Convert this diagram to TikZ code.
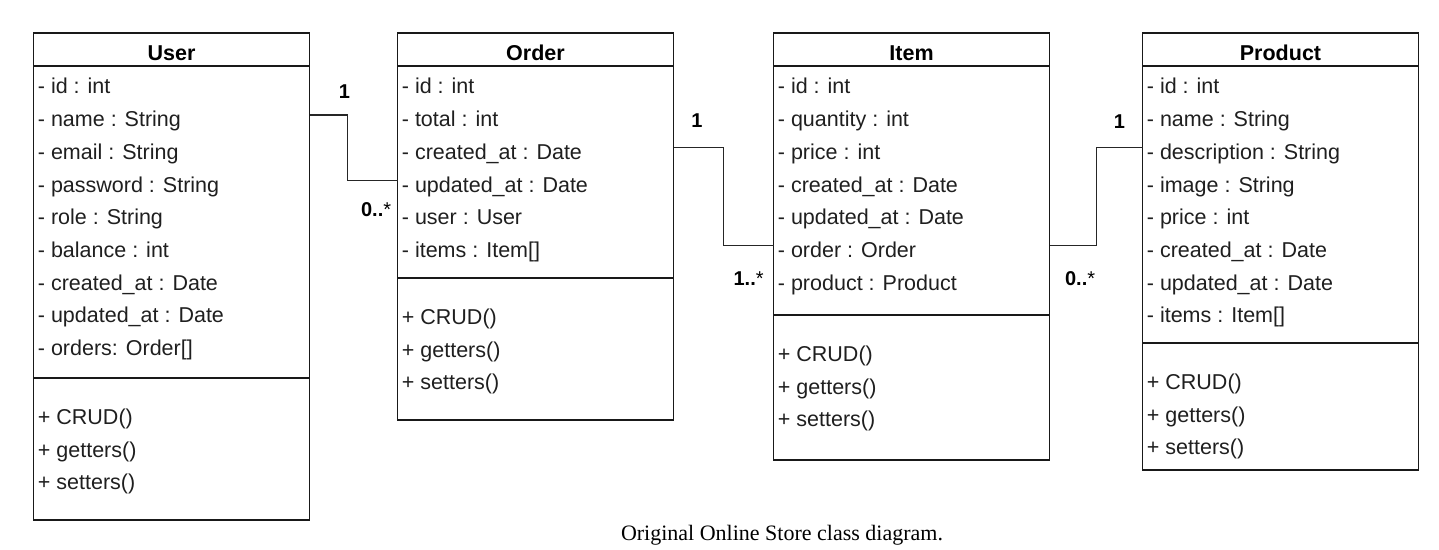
\documentclass[tikz,border=0pt]{standalone}
\usepackage{fontspec}
\setsansfont{Liberation Sans}
\newfontfamily\captionfont{Liberation Serif}
\usetikzlibrary{positioning,calc}

\begin{document}
\begin{tikzpicture}[
	x=0.5pt, y=-0.5pt,
	font=\fontsize{10.75}{13}\selectfont\sffamily,
	comp/.style={
		draw=black!90,
		line width=0.75pt,
		minimum width=138pt,
		inner sep=0pt,
		outer sep=0pt,
	},
	head/.style={
		comp,
		minimum height=16.5pt,
		text height=11.2pt,
		text depth=0pt,
		font=\fontsize{10.75}{13}\selectfont\sffamily\bfseries,
	},
	row/.style={anchor=base west, inner sep=0pt, text=black!88},
	link/.style={draw=black!85, line width=0.6pt},
	mult/.style={anchor=base, inner sep=0pt, font=\fontsize{10}{12}\selectfont\sffamily\bfseries},
]
\useasboundingbox (0,0) rectangle (1439,550);

% --- Třídy ---
\node[head, anchor=north west] (userH) at (33.5,33) {User};
\node[comp, minimum height=156pt, below=0pt of userH] (userA) {};
\node[comp, minimum height=71pt, below=0pt of userA] (userM) {};

\node[head, anchor=north west] (orderH) at (397.5,33) {Order};
\node[comp, minimum height=106pt, below=0pt of orderH] (orderA) {};
\node[comp, minimum height=71pt, below=0pt of orderA] (orderM) {};

\node[head, anchor=north west] (itemH) at (773.5,33) {Item};
\node[comp, minimum height=124.5pt, below=0pt of itemH] (itemA) {};
\node[comp, minimum height=72.5pt, below=0pt of itemA] (itemM) {};

\node[head, anchor=north west] (productH) at (1142.5,33) {Product};
\node[comp, minimum height=138.5pt, below=0pt of productH] (productA) {};
\node[comp, minimum height=63.5pt, below=0pt of productA] (productM) {};

% --- Atributy ---
\foreach \txt [count=\i from 0] in {- id : int, - name : String, - email : String,
		- password : String, - role : String, - balance : int,
		- created\_at : Date, - updated\_at : Date, - orders: Order[]}
	\node[row] (userA\i) at ($(userA.north west)+(4,28+32.7*\i)$) {\txt};

\foreach \txt [count=\i from 0] in {- id : int, - total : int, - created\_at : Date,
		- updated\_at : Date, - user : User, - items : Item[]}
	\node[row] (orderA\i) at ($(orderA.north west)+(4,28+32.7*\i)$) {\txt};

\foreach \txt [count=\i from 0] in {- id : int, - quantity : int, - price : int,
		- created\_at : Date, - updated\_at : Date, - order : Order, - product : Product}
	\node[row] (itemA\i) at ($(itemA.north west)+(4,28+32.7*\i)$) {\txt};

\foreach \txt [count=\i from 0] in {- id : int, - name : String, - description : String,
		- image : String, - price : int, - created\_at : Date, - updated\_at : Date,
		- items : Item[]}
	\node[row] (productA\i) at ($(productA.north west)+(4,28+32.7*\i)$) {\txt};

% --- Metody ---
\foreach \cls in {user,order,item,product}
	\foreach \txt [count=\i from 0] in {+ CRUD(), + getters(), + setters()}
		\node[row] (\cls M\i) at ($(\cls M.north west)+(4,46.5+32.7*\i)$) {\txt};

% --- Vazby ---
% User 1 -- 0..* Order
\draw[link] ($(userA.north east)+(0,49)$) -- ++(38,0) |- ($(orderA.north west)+(0,114.5)$);
\node[mult] (m1) at ($(userA.north east)+(35,32.3)$) {1};
\node[mult, anchor=base east] (m2) at ($(orderA.north west)+(-6,150.7)$) {0..\mdseries*};

% Order 1 -- 1..* Item
\draw[link] ($(orderA.north east)+(0,81.7)$) -- ++(50,0) |- ($(itemA.north west)+(0,179.7)$);
\node[mult] (m3) at ($(orderA.north east)+(23.5,62)$) {1};
\node[mult, anchor=base east] (m4) at ($(itemA.north west)+(-9.5,219.7)$) {1..\mdseries*};

% Item 0..* -- 1 Product
\draw[link] ($(itemA.north east)+(0,179.7)$) -- ++(47,0) |- ($(productA.north west)+(0,81.7)$);
\node[mult] (m5) at ($(productA.north west)+(-23,63)$) {1};
\node[mult, anchor=base east] (m6) at ($(itemA.north east)+(46,219.7)$) {0..\mdseries*};

% --- Popisek ---
\node[anchor=base, inner sep=0pt, font=\captionfont\fontsize{11}{13}\selectfont] (caption)
	at (782,540) {Original Online Store class diagram.};

\end{tikzpicture}
\end{document}
